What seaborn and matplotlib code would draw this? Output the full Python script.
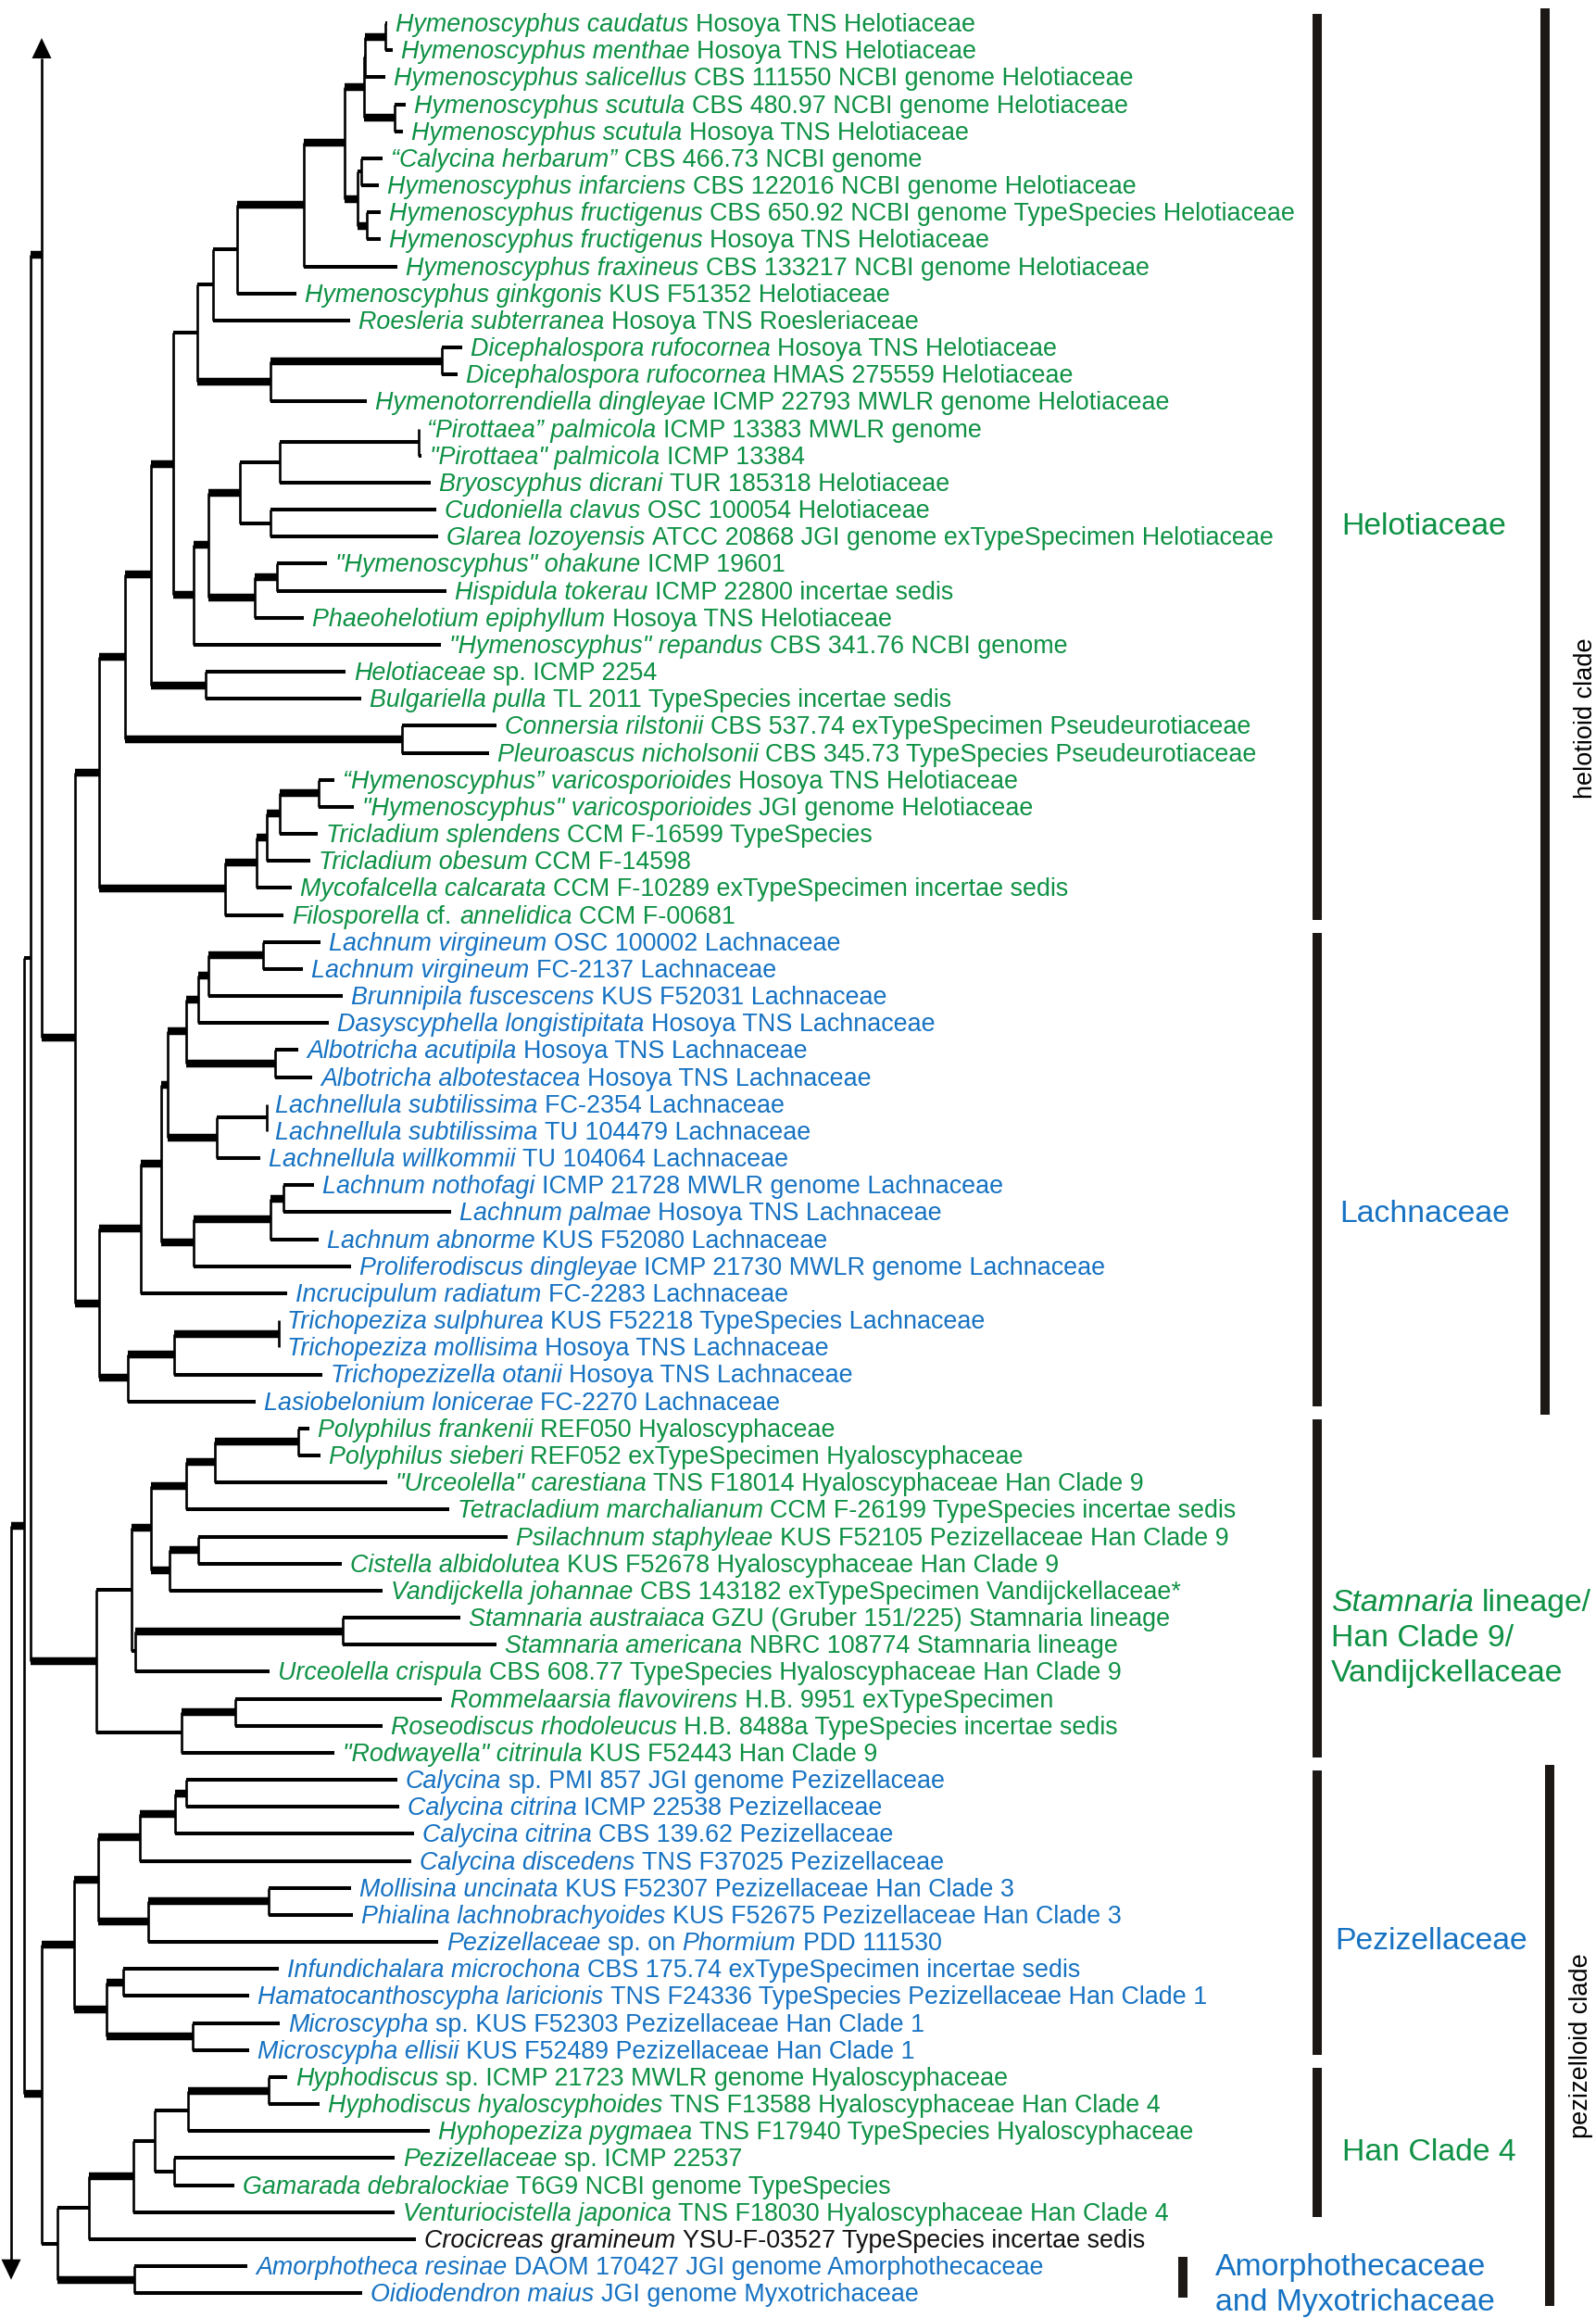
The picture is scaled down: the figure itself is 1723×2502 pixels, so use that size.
import re
import matplotlib
matplotlib.use("Agg")
import matplotlib.pyplot as plt
import seaborn as sns

# leaf labels, top to bottom; {...} = italic
labels = [
    "{Hymenoscyphus caudatus} Hosoya TNS Helotiaceae",
    "{Hymenoscyphus menthae} Hosoya TNS Helotiaceae",
    "{Hymenoscyphus salicellus} CBS 111550 NCBI genome Helotiaceae",
    "{Hymenoscyphus scutula} CBS 480.97 NCBI genome Helotiaceae",
    "{Hymenoscyphus scutula} Hosoya TNS Helotiaceae",
    "{\u201cCalycina herbarum\u201d} CBS 466.73 NCBI genome",
    "{Hymenoscyphus infarciens} CBS 122016 NCBI genome Helotiaceae",
    "{Hymenoscyphus fructigenus} CBS 650.92 NCBI genome TypeSpecies Helotiaceae",
    "{Hymenoscyphus fructigenus} Hosoya TNS Helotiaceae",
    "{Hymenoscyphus fraxineus} CBS 133217 NCBI genome Helotiaceae",
    "{Hymenoscyphus ginkgonis} KUS F51352 Helotiaceae",
    "{Roesleria subterranea} Hosoya TNS Roesleriaceae",
    "{Dicephalospora rufocornea} Hosoya TNS Helotiaceae",
    "{Dicephalospora rufocornea} HMAS 275559 Helotiaceae",
    "{Hymenotorrendiella dingleyae} ICMP 22793 MWLR genome Helotiaceae",
    "{\u201cPirottaea\u201d palmicola} ICMP 13383 MWLR genome",
    "{\"Pirottaea\" palmicola} ICMP 13384",
    "{Bryoscyphus dicrani} TUR 185318 Helotiaceae",
    "{Cudoniella clavus} OSC 100054 Helotiaceae",
    "{Glarea lozoyensis} ATCC 20868 JGI genome exTypeSpecimen Helotiaceae",
    "{\"Hymenoscyphus\" ohakune} ICMP 19601",
    "{Hispidula tokerau} ICMP 22800 incertae sedis",
    "{Phaeohelotium epiphyllum} Hosoya TNS Helotiaceae",
    "{\"Hymenoscyphus\" repandus} CBS 341.76 NCBI genome",
    "{Helotiaceae} sp. ICMP 2254",
    "{Bulgariella pulla} TL 2011 TypeSpecies incertae sedis",
    "{Connersia rilstonii} CBS 537.74 exTypeSpecimen Pseudeurotiaceae",
    "{Pleuroascus nicholsonii} CBS 345.73 TypeSpecies Pseudeurotiaceae",
    "{\u201cHymenoscyphus\u201d varicosporioides} Hosoya TNS Helotiaceae",
    "{\"Hymenoscyphus\" varicosporioides} JGI genome Helotiaceae",
    "{Tricladium splendens} CCM F-16599 TypeSpecies",
    "{Tricladium obesum} CCM F-14598",
    "{Mycofalcella calcarata} CCM F-10289 exTypeSpecimen incertae sedis",
    "{Filosporella} cf. {annelidica} CCM F-00681",
    "{Lachnum virgineum} OSC 100002 Lachnaceae",
    "{Lachnum virgineum} FC-2137 Lachnaceae",
    "{Brunnipila fuscescens} KUS F52031 Lachnaceae",
    "{Dasyscyphella longistipitata} Hosoya TNS Lachnaceae",
    "{Albotricha acutipila} Hosoya TNS Lachnaceae",
    "{Albotricha albotestacea} Hosoya TNS Lachnaceae",
    "{Lachnellula subtilissima} FC-2354 Lachnaceae",
    "{Lachnellula subtilissima} TU 104479 Lachnaceae",
    "{Lachnellula willkommii} TU 104064 Lachnaceae",
    "{Lachnum nothofagi} ICMP 21728 MWLR genome Lachnaceae",
    "{Lachnum palmae} Hosoya TNS Lachnaceae",
    "{Lachnum abnorme} KUS F52080 Lachnaceae",
    "{Proliferodiscus dingleyae} ICMP 21730 MWLR genome Lachnaceae",
    "{Incrucipulum radiatum} FC-2283 Lachnaceae",
    "{Trichopeziza sulphurea} KUS F52218 TypeSpecies Lachnaceae",
    "{Trichopeziza mollisima} Hosoya TNS Lachnaceae",
    "{Trichopezizella otanii} Hosoya TNS Lachnaceae",
    "{Lasiobelonium lonicerae} FC-2270 Lachnaceae",
    "{Polyphilus frankenii} REF050 Hyaloscyphaceae",
    "{Polyphilus sieberi} REF052 exTypeSpecimen Hyaloscyphaceae",
    "{\"Urceolella\" carestiana} TNS F18014 Hyaloscyphaceae Han Clade 9",
    "{Tetracladium marchalianum} CCM F-26199 TypeSpecies incertae sedis",
    "{Psilachnum staphyleae} KUS F52105 Pezizellaceae Han Clade 9",
    "{Cistella albidolutea} KUS F52678 Hyaloscyphaceae Han Clade 9",
    "{Vandijckella johannae} CBS 143182 exTypeSpecimen Vandijckellaceae*",
    "{Stamnaria austraiaca} GZU (Gruber 151/225) Stamnaria lineage",
    "{Stamnaria americana} NBRC 108774 Stamnaria lineage",
    "{Urceolella crispula} CBS 608.77 TypeSpecies Hyaloscyphaceae Han Clade 9",
    "{Rommelaarsia flavovirens} H.B. 9951 exTypeSpecimen",
    "{Roseodiscus rhodoleucus} H.B. 8488a TypeSpecies incertae sedis",
    "{\"Rodwayella\" citrinula} KUS F52443 Han Clade 9",
    "{Calycina} sp. PMI 857 JGI genome Pezizellaceae",
    "{Calycina citrina} ICMP 22538 Pezizellaceae",
    "{Calycina citrina} CBS 139.62 Pezizellaceae",
    "{Calycina discedens} TNS F37025 Pezizellaceae",
    "{Mollisina uncinata} KUS F52307 Pezizellaceae Han Clade 3",
    "{Phialina lachnobrachyoides} KUS F52675 Pezizellaceae Han Clade 3",
    "{Pezizellaceae} sp. on {Phormium} PDD 111530",
    "{Infundichalara microchona} CBS 175.74 exTypeSpecimen incertae sedis",
    "{Hamatocanthoscypha laricionis} TNS F24336 TypeSpecies Pezizellaceae Han Clade 1",
    "{Microscypha} sp. KUS F52303 Pezizellaceae Han Clade 1",
    "{Microscypha ellisii} KUS F52489 Pezizellaceae Han Clade 1",
    "{Hyphodiscus} sp. ICMP 21723 MWLR genome Hyaloscyphaceae",
    "{Hyphodiscus hyaloscyphoides} TNS F13588 Hyaloscyphaceae Han Clade 4",
    "{Hyphopeziza pygmaea} TNS F17940 TypeSpecies Hyaloscyphaceae",
    "{Pezizellaceae} sp. ICMP 22537",
    "{Gamarada debralockiae} T6G9 NCBI genome TypeSpecies",
    "{Venturiocistella japonica} TNS F18030 Hyaloscyphaceae Han Clade 4",
    "{Crocicreas gramineum} YSU-F-03527 TypeSpecies incertae sedis",
    "{Amorphotheca resinae} DAOM 170427 JGI genome Amorphothecaceae",
    "{Oidiodendron maius} JGI genome Myxotrichaceae",
]

# label colour, as runs of consecutive leaves
colour_runs = [("green", 34), ("blue", 18), ("green", 13), ("blue", 11),
               ("green", 6), ("black", 1), ("blue", 2)]

# tree in newick pieces; tN = leaf N, lengths in 1e-3 units, "100" = supported (bold) branch
hymenoscyphus = ("((((t0:2,t1:8)100:22,t2:22):1,(t3:12,t4:9)100:33)100:21,"
                 "((t5:23,t6:19):4,(t7:15,t8:15)100:10)100:14)100:44")
helotiaceae_a = "((((HYM,t9:101)100:72,t10:64):26,t11:148):17,((t12:22,t13:17)100:185,t14:104)100:79):26"
helotiaceae_b = ("((((t15:0,t16:3):150,t17:163):43,(t18:179,t19:181):33)100:34,"
                 "((t20:54,t21:183)100:24,t22:53)100:50)100:16")
helotiaceae = ("((((HA,(HB,t23:267)100:22)100:24,(t24:151,t25:168)100:59)100:28,"
               "(t26:102,t27:94)100:299)100:28,"
               "(((((t28:17,t29:38)100:42,t30:41)100:14,t31:47)100:11,t32:38)100:34,t33:63)100:136)100:26")
lachnaceae = ("((((((((t34:62,t35:43)100:59,t36:145)100:11,t37:141)100:13,(t38:25,t39:40)100:96)100:20,"
              "((t40:0,t41:0):54,t42:47)100:53)100:7,(((t43:33,t44:181)100:14,t45:52)100:83,t46:170)100:35)100:22,"
              "t47:158)100:45,(((t48:0,t49:0)100:113,t50:160)100:50,t51:138)100:31)100:26")
han_clade9 = ("((((((t52:12,t53:24)100:90,t54:186)100:31,t55:284)100:38,((t56:334,t57:155)100:31,t58:230)100:20)100:21,"
              "((t59:127,t60:166)100:224,t61:145):4):38,((t62:223,t63:159)100:58,t64:165):92)100:71")
pezizellaceae = ("(((((t65:228,t66:230)100:12,t67:258)100:38,t68:293)100:45,((t69:89,t70:91)100:130,t71:313)100:54)100:26,"
                 "((t72:168,t73:136)100:18,(t74:94,t75:61)100:93)100:35)100:35")
han_clade4 = ("((((((t76:20,t77:55)100:87,t78:261):36,(t79:238,t80:65):21):23,t81:282)100:48,t82:353):34,"
              "(t83:122,t84:246)100:83):17")
backbone = "((((^:0,(HELO,LACH)100:36)100:12,HC9):7,(PEZ,HC4)100:19)100:14,v:0);"

# truncated branches (^ up, v down): virtual row and arrow-tip row
arrow_rows = {"^": -20.4, "v": 130.0}
arrow_tips = {"^": 0.55, "v": 83.5}

clade_names = [["Helotiaceae"], ["Lachnaceae"],
               ["{Stamnaria} lineage/", "Han Clade 9/", "Vandijckellaceae"],
               ["Pezizellaceae"], ["Han Clade 4"], ["Amorphothecaceae", "and Myxotrichaceae"]]
clade_colours = ["green", "blue", "green", "blue", "green", "blue"]
clade_first = [0, 34, 52, 65, 76, 83]
clade_last = [33, 51, 64, 75, 81, 84]
group_names = ["helotioid clade", "pezizelloid clade"]
group_first = [0, 65]
group_last = [51, 84]

# ---------------- layout / style ----------------
W, H = 1724, 2502
ROW0, ROW_H = 25, 29.17
X0 = 12
COLOURS = {"green": "#0e9144", "blue": "#1672c2", "black": "#111111"}
LEAF_FS, CLADE_FS, GROUP_FS = 19.4, 24.3, 19.5
V_LW, THIN_LW, THICK_LW = 1.9, 2.9, 6.1
BAR = "#1c1815"
clade_bar_x = [1422, 1422, 1422, 1422, 1422, 1277]
clade_label_xy = [(1448, 565), (1446, 1307), (1437, 1727), (1441, 2092), (1449, 2320), (1312, 2444)]
group_bar_x = [1668, 1673]
group_label_xy = [(1712, 775), (1707, 2208)]


def row_y(r):
    return ROW0 + r * ROW_H


def parse(s):
    pos = 0

    def node():
        nonlocal pos
        n = {"children": [], "name": "", "len": 0.0}
        if s[pos] == "(":
            pos += 1
            n["children"].append(node())
            while s[pos] == ",":
                pos += 1
                n["children"].append(node())
            pos += 1
        start = pos
        while s[pos] not in ":,);":
            pos += 1
        n["name"] = s[start:pos]
        if s[pos] == ":":
            pos += 1
            start = pos
            while s[pos] not in ",);":
                pos += 1
            n["len"] = float(s[start:pos])
        return n

    return node()


newick = (backbone.replace("HELO", helotiaceae.replace("HA", helotiaceae_a.replace("HYM", hymenoscyphus))
                           .replace("HB", helotiaceae_b))
          .replace("LACH", lachnaceae).replace("HC9", han_clade9)
          .replace("PEZ", pezizellaceae).replace("HC4", han_clade4))
tree = parse(newick)


def layout(n, x0):
    n["x"] = x0 + n["len"]
    if n["children"]:
        for c in n["children"]:
            layout(c, n["x"])
        n["y"] = (n["children"][0]["y"] + n["children"][-1]["y"]) / 2
    elif n["name"] in arrow_rows:
        n["y"] = row_y(arrow_rows[n["name"]])
    else:
        n["y"] = row_y(int(n["name"][1:]))


layout(tree, X0)

sns.set_theme(style="white")
plt.rcParams["font.family"] = ["Liberation Sans", "DejaVu Sans"]

fig = plt.figure(figsize=(W / 100, H / 100), dpi=100)
ax = fig.add_axes([0, 0, 1, 1])
ax.set_xlim(0, W)
ax.set_ylim(H, 0)
ax.axis("off")
renderer = fig.canvas.get_renderer()

leaf_colours = [c for c, k in colour_runs for _ in range(k)]


def rich_text(x, y, markup, size, colour):
    space = size * 100 / 72 * 0.278
    for ital, roman in re.findall(r"\{([^}]*)\}|([^{}]+)", markup):
        s = (ital or roman).strip()
        if not s:
            continue
        t = ax.text(x, y, s, fontsize=size, color=colour, ha="left", va="baseline",
                    style="italic" if ital else "normal")
        x += t.get_window_extent(renderer).width + space


def arrow_head(x, tip, direction):
    h, w = 22, 10.5
    base = tip + direction * h
    ax.fill([x - w, x + w, x], [base, base, tip], color="black", lw=0)
    return base


def draw(n, parent_x):
    name = n["name"]
    if parent_x is not None and name not in arrow_rows:
        ax.plot([parent_x, n["x"]], [n["y"], n["y"]], color="black", solid_capstyle="butt",
                lw=THICK_LW if name == "100" else THIN_LW)
    if not n["children"]:
        if name.startswith("t"):
            i = int(name[1:])
            rich_text(n["x"] + 9, n["y"] + 9, labels[i], LEAF_FS, COLOURS[leaf_colours[i]])
        return
    ys = []
    for c in n["children"]:
        if c["name"] in arrow_rows:
            tip = row_y(arrow_tips[c["name"]])
            ys.append(arrow_head(n["x"], tip, 1 if c["y"] < n["y"] else -1))
        else:
            ys.append(c["y"])
    ax.plot([n["x"], n["x"]], [min(ys), max(ys)], color="black", lw=V_LW, solid_capstyle="butt")
    for c in n["children"]:
        draw(c, n["x"])


draw(tree, None)

# clade bars and names
for i, lines in enumerate(clade_names):
    ax.plot([clade_bar_x[i]] * 2, [row_y(clade_first[i]) - 10, row_y(clade_last[i]) + 5],
            color=BAR, lw=7.2, solid_capstyle="butt")
    lx, ly = clade_label_xy[i]
    for k, line in enumerate(lines):
        rich_text(lx, ly + 12 + k * 38, line, CLADE_FS, COLOURS[clade_colours[i]])

for i, name in enumerate(group_names):
    ax.plot([group_bar_x[i]] * 2, [row_y(group_first[i]) - 16, row_y(group_last[i]) + 14],
            color=BAR, lw=7.2, solid_capstyle="butt")
    gx, gy = group_label_xy[i]
    ax.text(gx, gy, name, rotation=90, fontsize=GROUP_FS, color="black", ha="center", va="center")

fig.savefig("out.png", dpi=100)
